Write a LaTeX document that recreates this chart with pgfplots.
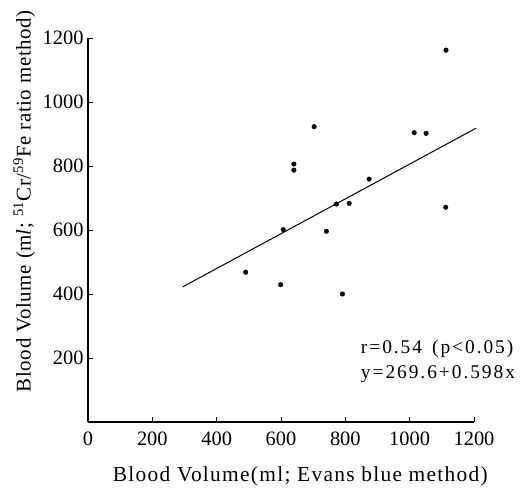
\documentclass[border=0pt]{standalone}
\usepackage{fontspec}
\setmainfont{Liberation Serif}
\newfontfamily\labfont[LetterSpace=6]{Liberation Serif}
\newfontfamily\ylabfont[LetterSpace=3]{Liberation Serif}
\newfontfamily\annfont[LetterSpace=10]{Liberation Serif}
\usepackage{pgfplots}
\pgfplotsset{compat=1.18}

\begin{document}
\begin{tikzpicture}
\path[use as bounding box] (-88bp,-71bp) rectangle (438bp,422bp);
\begin{axis}[
  scale only axis, width=386bp, height=384bp,
  xmin=0, xmax=1200, ymin=0, ymax=1200,
  axis lines*=left, axis line style={line width=1.1pt},
  tick style={black, line width=0.9pt}, tick align=inside,
  major tick length=5bp,
  xtick={0,200,...,1200}, ytick={200,400,...,1200},
  /pgf/number format/assume math mode=true,
  /pgf/number format/set thousands separator={},
  tick label style={font=\fontsize{20.5}{22}\selectfont},
  xticklabel style={yshift=-6bp},
  yticklabel style={xshift=-1bp},
  xlabel={\labfont\fontsize{21.5}{24}\selectfont Blood Volume(ml; Evans blue method)},
  ylabel={\ylabfont\fontsize{21}{24}\selectfont Blood Volume (m\textit{l}; \textsuperscript{51}Cr/\textsuperscript{59}Fe ratio method)},
  xlabel style={at={(ticklabel cs:0.55)}, anchor=center, yshift=-28bp},
  ylabel style={at={(ticklabel cs:0.575)}, anchor=center, yshift=15bp},
  clip=false,
]
\addplot[only marks, mark=*, mark size=2.3bp, black] coordinates {
  (490,468) (599,429) (607,601) (741,596) (772,681) (812,683) (791,400)
  (1112,671) (874,759) (640,806) (640,787) (703,923) (1014,904)
  (1051,902) (1113,1162)
};
\addplot[black, line width=1pt] coordinates {(294,422) (1206,918)};
\node[anchor=west, align=left, inner sep=0pt, font=\annfont\fontsize{19.5}{25}\selectfont]
  at (axis cs:848,190) {r=0.54 \,(p<0.05)\\y=269.6+0.598x};
\end{axis}
\end{tikzpicture}
\end{document}
